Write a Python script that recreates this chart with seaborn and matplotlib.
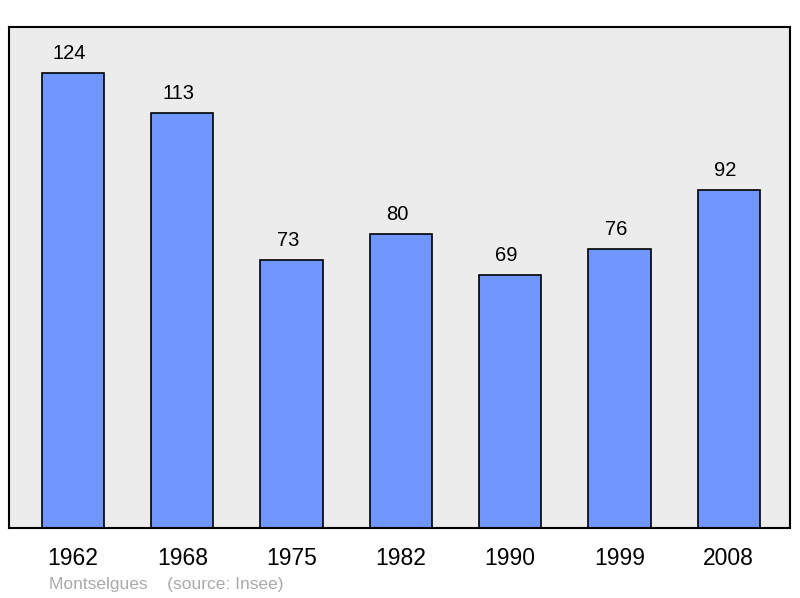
import matplotlib
matplotlib.use("Agg")
import matplotlib.pyplot as plt
import seaborn as sns
import pandas as pd

years = ["1962", "1968", "1975", "1982", "1990", "1999", "2008"]
population = [124, 113, 73, 80, 69, 76, 92]

df = pd.DataFrame({"year": years, "pop": population})

sns.set_style("white")
plt.rcParams["font.family"] = ["Liberation Sans", "DejaVu Sans"]
plt.rcParams["text.color"] = "black"
plt.rcParams["xtick.color"] = "black"

fig = plt.figure(figsize=(8, 5.98), dpi=100)
ax = fig.add_axes([9 / 800, 1 - 528 / 598, 781 / 800, 501 / 598])
ax.set_facecolor("#ececec")

sns.barplot(data=df, x="year", y="pop", color="#7096ff", saturation=1,
            width=0.57, edgecolor="black", linewidth=1.2, ax=ax)

for i, v in enumerate(population):
    ax.annotate(str(v), (i, v), xytext=(-2.5, 10), textcoords="offset points",
                ha="center", va="baseline", fontsize=14.5, color="black")

ax.set_xlim(-0.585, 6.56)
ax.set_ylim(0, 136.4)
ax.set_yticks([])
ax.set_xlabel("")
ax.set_ylabel("")
ax.tick_params(axis="x", length=0, labelsize=16.5, pad=14, labelcolor="black")
for s in ax.spines.values():
    s.set_color("black")
    s.set_linewidth(1.5)

fig.text(49 / 800, 1 - 584 / 598, "Montselgues    (source: Insee)",
         fontsize=12.5, color="#aaaaaa", va="center", ha="left")

fig.savefig("out.png", dpi=100)
